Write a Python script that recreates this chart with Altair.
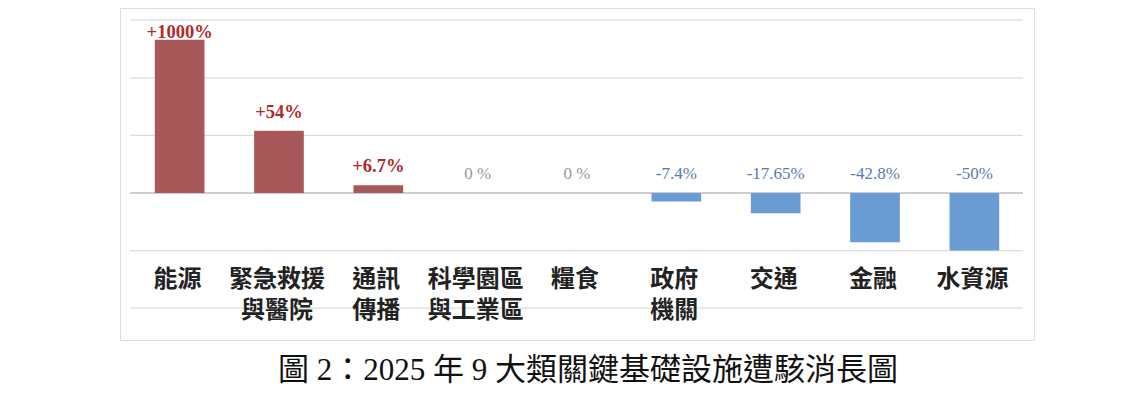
import altair as alt
import pandas as pd

# ---- data ----
categories = ["能源", "緊急救援\n與醫院", "通訊\n傳播", "科學園區\n與工業區", "糧食",
              "政府\n機關", "交通", "金融", "水資源"]
# drawn bar heights (%); the 能源 bar is drawn truncated at about 133 %
bar_values = [133, 54, 6.7, 0, 0, -7.4, -17.65, -42.8, -50]
value_labels = ["+1000%", "+54%", "+6.7%", "0 %", "0 %", "-7.4%", "-17.65%", "-42.8%", "-50%"]
grid_values = [150, 100, 50, 0, -50, -100]
title_text = "圖 2：2025 年 9 大類關鍵基礎設施遭駭消長圖"

df = pd.DataFrame({
    "cat": categories,
    "v": bar_values,
    "label": value_labels,
})
df["sign"] = ["pos" if v > 0 else ("neg" if v < 0 else "zero") for v in bar_values]
grid_df = pd.DataFrame({"g": grid_values})

W, H = 914, 332
yscale = alt.Scale(domain=[-127.6, 160.6], nice=False, zero=False)
xscale = alt.Scale(domain=categories, paddingInner=0.5, paddingOuter=0.35)

grid = alt.Chart(grid_df).mark_rule(strokeWidth=1.3).encode(
    y=alt.Y("g:Q", scale=yscale, axis=None),
    x=alt.value(10), x2=alt.value(903),
    color=alt.condition("datum.g == 0", alt.value("#bdbdbd"), alt.value("#dcdcdc")),
)

bars = alt.Chart(df).mark_bar().encode(
    x=alt.X("cat:N", scale=xscale, axis=None, sort=categories),
    y=alt.Y("v:Q", scale=yscale, axis=None),
    y2=alt.datum(0),
    color=alt.Color("sign:N", scale=alt.Scale(domain=["pos", "neg", "zero"],
                                              range=["#a9585a", "#6a9bd3", "#999999"]),
                    legend=None),
)

label_base = alt.Chart(df).transform_calculate(
    ly="min(max(datum.v, 0), 123)"
)

def value_text(sign, color, weight, size):
    return label_base.transform_filter(f"datum.sign == '{sign}'").mark_text(
        font="Liberation Serif", fontSize=size, fontWeight=weight, color=color,
        baseline="middle", align="center", dy=-19,
    ).encode(
        x=alt.X("cat:N", scale=xscale, axis=None, sort=categories),
        y=alt.Y("ly:Q", scale=yscale, axis=None),
        text="label:N",
    )

pos_text = value_text("pos", "#b02a2c", "bold", 18.5)
zero_text = value_text("zero", "#9a9a9a", "normal", 17)
neg_text = value_text("neg", "#5b79b3", "normal", 17)

cat_text = alt.Chart(df).mark_text(
    font="Noto Sans CJK TC", fontSize=24, fontWeight="bold", color="#222222",
    baseline="top", align="center", lineBreak="\n", lineHeight=31, dx=-2,
).encode(
    x=alt.X("cat:N", scale=xscale, axis=None, sort=categories),
    y=alt.value(260),
    text="cat:N",
)

chart = alt.layer(grid, bars, pos_text, zero_text, neg_text, cat_text).properties(
    width=W, height=H,
    autosize=alt.AutoSizeParams(type="none"),
    padding={"left": 112, "top": 0, "right": 60, "bottom": 60},
    title=alt.TitleParams(
        title_text, orient="bottom", anchor="middle", offset=16, dx=11,
        font="Liberation Serif, Noto Sans CJK TC", fontSize=31, fontWeight="normal",
        color="#111111",
    ),
).configure_view(stroke="#d2d2d2", strokeWidth=2).configure(background="white")

chart.save("out.html", embed_options={"renderer": "svg", "actions": False})
